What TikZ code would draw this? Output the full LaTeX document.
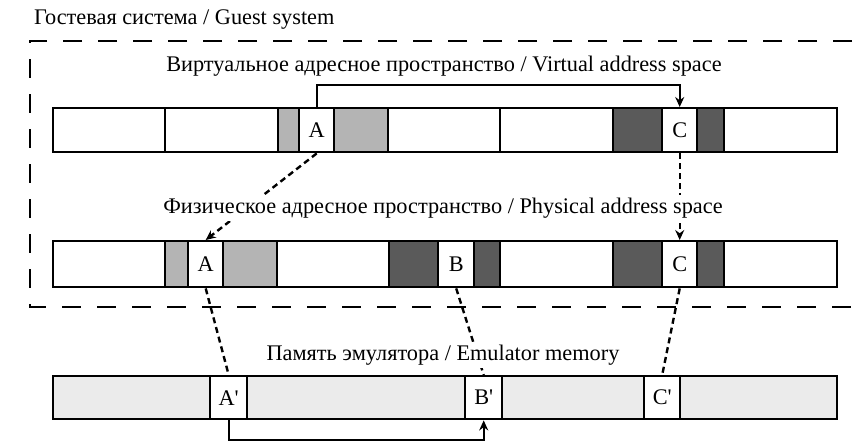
\documentclass[tikz,border=0pt]{standalone}
\usepackage{fontspec}
\setmainfont{Liberation Serif}
\usetikzlibrary{arrows.meta}
\definecolor{lgray}{HTML}{B4B4B4}
\definecolor{dgray}{HTML}{5A5A5A}
\definecolor{egray}{HTML}{EBEBEB}
\newcommand\mseg[7]{\node[segbox,fill=#6,minimum width={(#3-#2)*1pt},minimum height={(#5-#4)*1pt}] (#1) at (#2,#4) {#7};}
\begin{document}
\begin{tikzpicture}[x=1pt,y=-1pt,
  segbox/.style={draw, line width=2.4pt, inner sep=0pt, anchor=north west, font=\fontsize{22.3}{25}\selectfont},
  lbl/.style={font=\fontsize{22.3}{25}\selectfont, inner sep=1pt},
  lblw/.style={lbl, fill=white, inner sep=3pt},
  guestbox/.style={line width=2.8pt, dash pattern=on 19pt off 16pt},
  link/.style={line width=2.4pt, dash pattern=on 6pt off 4pt},
  arr/.style={-{Stealth[length=10pt,width=9pt]}},
  solidlink/.style={line width=2.2pt}]
\useasboundingbox (0,0) rectangle (854,442);
% guest system box
\draw[guestbox] (852,41) -- (30,41) -- (30,307) -- (852,307);
\node[lbl, anchor=west] (title) at (33,20) {Гостевая система / Guest system};
% virtual bar
\mseg{v1}{52}{164}{107}{151}{white}{}
\mseg{v2}{164}{277}{107}{151}{white}{}
\mseg{v3}{277}{298}{107}{151}{lgray}{}
\mseg{vA}{298}{333}{107}{151}{white}{A}
\mseg{v4}{333}{387}{107}{151}{lgray}{}
\mseg{v5}{387}{499}{107}{151}{white}{}
\mseg{v6}{499}{612}{107}{151}{white}{}
\mseg{v7}{612}{661}{107}{151}{dgray}{}
\mseg{vC}{661}{696}{107}{151}{white}{C}
\mseg{v8}{696}{723}{107}{151}{dgray}{}
\mseg{v9}{723}{836}{107}{151}{white}{}
% physical bar
\mseg{p1}{52}{164}{240}{286}{white}{}
\mseg{p2}{164}{187}{240}{286}{lgray}{}
\mseg{pA}{187}{222}{240}{286}{white}{A}
\mseg{p3}{222}{276}{240}{286}{lgray}{}
\mseg{p4}{276}{388}{240}{286}{white}{}
\mseg{p5}{388}{437}{240}{286}{dgray}{}
\mseg{pB}{437}{473}{240}{286}{white}{B}
\mseg{p6}{473}{499}{240}{286}{dgray}{}
\mseg{p7}{499}{612}{240}{286}{white}{}
\mseg{p8}{612}{661}{240}{286}{dgray}{}
\mseg{pC}{661}{696}{240}{286}{white}{C}
\mseg{p9}{696}{723}{240}{286}{dgray}{}
\mseg{p10}{723}{836}{240}{286}{white}{}
% emulator bar
\mseg{e0}{52}{836}{375}{418}{egray}{}
\mseg{eA}{209}{246}{375}{418}{white}{A\textquotesingle}
\mseg{eB}{464}{501}{375}{418}{white}{B\textquotesingle}
\mseg{eC}{643}{679}{375}{418}{white}{C\textquotesingle}
% connectors
\draw[solidlink, arr] (vA.north) -- (vA.north |- 0,85) -| (vC.north);
\draw[link, arr] (vA.south) -- (pA.north);
\draw[link, arr] (vC.south) -- (pC.north);
\draw[link] (pA.south) -- (eA.north);
\draw[link] (pB.south) -- (eB.north);
\draw[link] (pC.south) -- (eC.north);
\draw[solidlink, arr] (eA.south) -- (eA.south |- 0,440) -| (eB.south);
% labels
\node[lblw] (vlabel) at (444,66) {Виртуальное адресное пространство / Virtual address space};
\node[lblw] (plabel) at (443,208) {Физическое адресное пространство / Physical address space};
\node[lblw] (elabel) at (443,355) {Память эмулятора / Emulator memory};
\end{tikzpicture}
\end{document}
